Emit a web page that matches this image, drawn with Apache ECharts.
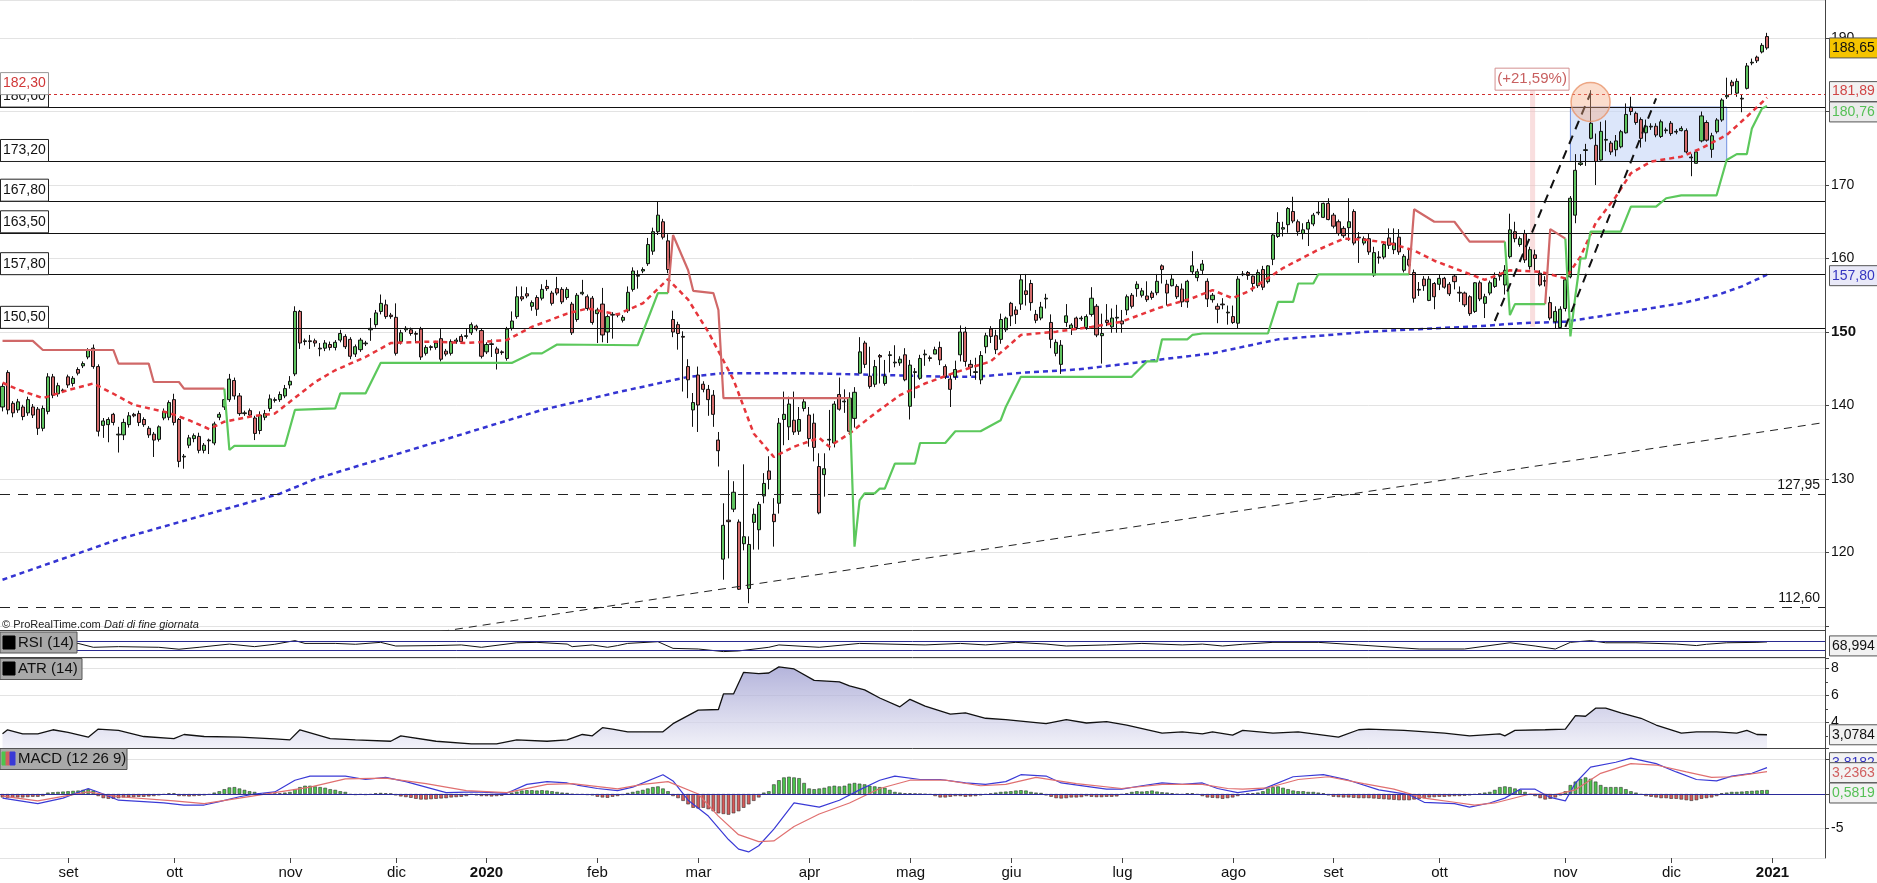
<!DOCTYPE html>
<html><head><meta charset="utf-8">
<script src="https://cdn.jsdelivr.net/npm/echarts@6/dist/echarts.min.js"></script>
<style>html,body{margin:0;padding:0;background:#fff}#c{width:1877px;height:883px}</style>
</head><body><div id="c"></div>
<script>
const FONT = '"Liberation Sans", Arial, sans-serif';
const N_SLOTS = 362;
const monthIdx = [13,34,57,78,96,118,138,160,180,200,222,244,264,285,310,331,351];
const monthLbl = ['set','ott','nov','dic','2020','feb','mar','apr','mag','giu','lug','ago','set','ott','nov','dic','2021'];
const mainTicks = [120,130,140,150,160,170,180,190];
const atrTicks = [4,6,8];
const macdTicks = [-5,0,5];

const openP = [
139.8,144.5,140.3,139.4,139.8,139.0,139.8,139.5,136.9,139.2,
143.9,141.6,142.0,143.9,143.0,144.9,145.4,146.6,147.8,145.3,
137.3,137.4,138.8,136.0,136.0,137.4,138.8,138.9,138.1,136.9,
136.1,135.4,138.3,138.4,140.8,138.1,133.0,134.6,135.5,135.8,
133.9,135.2,134.9,138.4,139.8,140.8,143.4,141.3,138.9,139.3,
138.3,136.6,138.4,139.6,140.7,140.8,141.3,142.8,144.3,152.8,
148.7,148.8,148.8,147.8,147.8,148.3,147.9,148.9,149.4,149.0,
147.0,147.6,148.4,150.3,151.0,152.8,153.7,152.3,152.0,148.7,
150.3,150.3,149.8,150.4,147.1,147.9,147.9,149.1,147.4,147.1,
148.7,149.4,149.4,149.9,150.8,150.2,147.3,148.3,147.7,147.3,
146.4,150.5,152.1,154.8,155.2,153.5,154.7,154.6,156.2,155.3,
155.9,155.8,154.7,153.8,151.7,155.2,154.8,154.6,152.5,153.8,
150.0,152.3,152.4,151.6,152.9,155.8,157.6,158.3,159.3,161.0,
163.65,165.0,162.4,151.7,151.0,149.4,145.3,139.4,144.15,142.9,
142.2,141.4,135.3,119.1,124.4,125.9,124.15,121.2,115.1,124.1,
123.1,127.7,131.1,125.2,126.7,138.1,137.1,138.0,136.5,139.6,
138.7,137.6,131.7,130.6,135.3,134.9,141.5,140.5,141.0,138.25,
144.4,148.5,144.0,142.9,146.8,143.0,146.8,145.8,145.8,146.9,
139.9,144.5,143.7,146.9,146.5,147.0,147.9,145.3,143.6,143.9,
146.9,150.0,145.6,144.5,143.5,148.0,150.4,149.5,149.0,150.3,
153.9,153.0,153.8,155.6,156.6,152.4,151.9,154.5,151.3,147.1,
145.6,151.3,150.5,151.9,151.8,150.6,152.4,153.5,149.5,151.6,
150.7,151.9,151.5,153.0,155.0,155.9,155.0,154.9,155.3,155.35,
159.0,156.5,156.3,156.2,155.85,154.1,158.2,157.4,158.4,156.9,
154.4,153.5,153.8,152.6,152.1,151.2,157.8,158.1,157.6,156.3,
158.5,156.85,159.9,163.0,164.0,164.6,166.4,165.0,163.4,164.0,
164.7,166.2,165.6,167.5,165.9,165.0,164.1,164.2,166.4,162.9,
162.1,162.7,157.75,160.2,160.2,162.8,161.2,162.9,158.4,159.9,
158.1,155.8,157.2,154.3,156.6,156.5,157.3,156.5,157.6,155.4,
155.3,154.8,152.8,156.7,153.9,155.3,156.2,157.6,156.4,160.25,
163.65,161.9,163.4,158.9,160.5,158.0,157.0,154.0,151.4,150.6,
153.2,157.5,165.9,172.8,174.7,176.35,175.4,173.4,176.1,175.7,
174.8,175.2,177.1,180.6,179.75,178.9,177.1,177.9,178.0,176.6,
177.4,178.4,177.2,177.4,177.4,173.7,172.95,176.0,178.5,174.85,
177.25,178.85,182.0,184.0,182.5,181.8,183.15,186.6,187.4,188.1,190.2];

const closeP = [
142.6,139.4,139.0,140.5,138.5,140.8,138.7,136.9,139.6,143.9,
141.4,142.7,142.1,142.8,143.7,144.4,145.7,147.5,145.3,136.5,
137.9,138.1,137.7,136.1,137.7,138.6,138.6,137.7,137.4,136.0,
135.3,137.1,139.2,140.4,137.7,132.4,133.1,135.6,135.9,133.9,
134.6,135.3,137.5,138.8,140.8,143.6,141.3,138.9,139.0,138.7,
136.2,138.7,138.9,140.9,140.8,141.5,142.3,143.3,152.8,148.5,
148.8,148.7,148.5,147.7,148.5,147.9,148.6,149.8,148.0,146.7,
148.0,148.9,148.5,150.5,152.6,153.9,152.1,152.1,147.1,149.9,
150.5,149.8,149.7,146.6,147.9,148.0,148.5,146.3,147.0,148.7,
148.9,148.7,149.5,151.0,150.4,146.7,148.3,148.4,147.1,147.2,
150.4,151.5,154.8,154.5,154.9,154.0,153.1,155.8,155.9,153.9,
155.3,154.1,155.8,149.9,155.0,155.4,153.2,151.3,153.0,149.6,
152.1,152.4,152.3,152.0,155.4,158.3,157.7,158.5,161.9,163.65,
165.9,162.9,158.5,150.0,149.8,149.3,143.5,140.4,140.07,142.2,
140.8,138.8,133.85,123.7,124.2,128.2,115.0,122.15,121.1,125.2,
126.55,129.4,129.95,124.2,137.6,138.8,140.2,136.4,138.1,140.5,
135.5,134.3,125.4,131.4,135.4,140.2,139.5,140.6,136.5,141.8,
147.3,145.6,142.6,145.3,146.6,144.0,146.9,145.9,146.3,143.5,
145.5,144.6,146.4,147.0,146.4,147.6,146.2,143.9,142.2,144.9,
150.0,146.0,145.2,144.6,146.8,149.5,149.4,147.6,151.7,151.9,
152.2,152.4,157.1,155.1,154.0,151.6,153.4,154.6,149.0,148.6,
148.2,152.2,150.95,150.6,151.9,152.1,154.6,149.6,149.8,151.3,
151.9,152.0,151.1,154.8,153.5,156.5,155.6,154.4,154.7,156.9,
158.5,155.3,157.2,154.8,154.1,156.9,159.0,158.2,159.25,154.5,
155.0,153.1,153.7,152.7,151.3,157.2,157.9,157.7,156.6,158.1,
156.1,159.0,163.2,164.9,164.2,166.8,165.1,163.65,163.9,164.9,
165.9,166.3,167.5,165.3,164.4,163.4,163.1,165.0,162.1,162.8,
162.7,160.9,160.8,160.1,161.9,161.8,162.1,160.9,160.3,159.1,
154.6,155.7,156.3,157.2,154.8,157.3,156.1,155.2,156.85,155.3,
153.7,152.5,156.7,154.5,154.8,156.7,157.3,157.7,158.4,163.9,
162.7,162.7,159.8,161.2,160.0,156.4,156.9,151.9,152.8,153.1,
157.1,168.2,172.0,173.0,174.8,178.4,173.2,177.3,176.2,174.5,
176.0,177.25,179.6,180.0,178.5,176.35,178.0,178.0,176.8,178.6,
177.5,177.0,177.3,177.7,174.5,173.8,174.5,179.4,176.1,176.7,
178.85,181.56,182.2,183.5,184.1,181.7,186.2,186.7,186.9,189.0,188.65];

const lowP = [
139.2,138.8,138.4,139.0,138.0,138.6,138.3,136.0,136.5,138.8,
141.0,141.2,141.7,142.4,142.6,144.1,145.1,146.3,145.0,135.8,
135.6,135.0,137.3,133.6,135.3,137.0,138.4,137.2,137.1,135.6,
133.0,135.1,138.0,138.0,137.3,131.6,131.4,134.2,135.0,133.5,
133.5,133.4,134.6,138.0,139.4,140.5,140.8,138.6,138.6,138.4,
135.3,136.1,138.0,139.2,140.4,140.5,141.0,142.3,144.0,147.7,
148.2,147.7,148.0,146.7,147.4,147.5,147.5,148.6,147.7,146.3,
146.6,147.3,148.1,148.8,150.6,152.4,151.8,151.8,146.8,148.3,
150.0,149.5,148.5,146.2,146.8,147.5,147.6,146.0,146.7,146.8,
148.4,148.4,149.1,149.6,150.1,146.4,147.0,146.6,144.9,146.9,
146.1,150.2,151.8,154.2,154.6,152.9,152.2,154.3,155.6,153.6,
155.0,153.8,154.4,149.6,151.4,155.0,152.9,151.0,148.5,148.6,
148.5,149.1,152.0,151.3,152.6,155.5,155.9,158.0,159.0,160.5,
163.2,162.6,158.0,149.3,147.6,141.9,141.0,137.1,136.4,141.8,
138.6,137.1,131.7,116.3,119.2,125.5,114.9,120.3,113.1,120.4,
120.4,126.7,128.6,120.8,125.3,134.6,135.3,136.0,136.0,139.2,
134.4,132.4,125.2,127.6,133.9,134.3,139.3,139.0,136.0,137.0,
144.4,145.1,142.3,142.5,143.0,142.7,144.5,145.2,145.4,143.3,
138.1,141.0,143.5,145.4,146.0,147.0,145.5,143.6,139.8,143.5,
146.0,145.3,144.0,143.5,142.9,147.1,148.5,147.0,148.4,150.0,
150.8,151.1,153.0,153.6,152.9,151.2,151.6,153.2,147.8,146.7,
144.3,150.7,149.6,150.3,151.5,150.3,152.1,149.3,145.7,150.8,
149.9,149.9,149.9,152.3,153.2,154.8,154.7,154.1,154.4,155.0,
156.6,153.6,156.2,154.5,153.4,153.3,157.9,156.9,157.9,153.4,
154.0,151.2,153.1,151.0,151.1,150.5,157.6,157.1,155.5,156.0,
155.7,156.6,159.1,162.8,163.0,163.5,164.8,163.1,162.6,161.7,
164.4,165.9,165.5,165.2,164.1,163.1,162.8,162.4,161.8,159.4,
161.8,160.5,157.5,159.3,159.9,161.3,160.6,160.5,158.1,158.9,
154.0,154.9,155.6,154.2,153.1,155.7,155.9,154.9,155.8,154.1,
153.4,152.2,152.6,154.2,151.9,155.0,156.0,157.0,155.1,160.0,
162.2,161.6,159.4,158.5,158.4,156.2,156.2,151.6,150.5,150.5,
152.8,157.3,164.8,172.6,172.6,176.2,170.0,173.3,174.6,174.1,
173.9,175.0,177.0,179.5,178.2,175.1,175.9,177.5,176.5,176.4,
177.0,176.7,176.9,177.3,174.3,171.2,172.9,175.8,175.9,173.7,
177.0,178.6,181.7,182.3,182.0,179.9,183.0,186.3,186.6,187.9,188.4];

const highP = [
143.0,144.8,140.6,140.9,140.1,141.2,140.2,139.8,140.0,144.4,
144.3,143.1,142.3,144.2,144.0,145.2,146.0,147.8,148.3,145.6,
138.3,138.4,139.0,137.1,138.2,139.1,139.0,139.3,138.4,137.2,
136.4,137.3,139.6,140.7,141.6,138.3,133.4,136.0,136.2,136.3,
134.9,135.5,137.8,139.1,141.2,144.3,143.8,141.7,139.3,139.6,
138.6,139.2,139.4,141.5,141.1,141.9,142.8,144.0,153.5,153.0,
149.1,149.6,149.1,148.5,148.9,148.7,148.9,150.3,149.7,149.3,
148.3,149.2,148.8,151.9,153.0,155.1,154.4,152.6,153.9,150.3,
150.8,150.6,150.1,150.7,148.2,148.2,148.8,150.4,147.7,149.0,
149.2,149.7,150.4,151.3,151.0,150.5,148.6,149.0,148.0,147.5,
150.7,152.8,156.2,156.2,156.1,154.3,155.0,156.5,157.1,155.6,
157.5,156.1,156.1,154.1,155.3,157.1,155.1,154.9,153.3,156.0,
152.4,152.7,152.6,152.3,156.2,158.8,158.4,158.8,162.8,164.2,
167.8,165.4,163.3,152.9,151.4,150.1,146.3,141.7,145.3,143.3,
142.8,142.1,136.4,126.7,131.2,129.7,124.5,132.0,122.2,126.0,
126.9,130.8,133.1,127.4,138.3,141.9,141.2,141.9,139.8,141.0,
139.8,138.9,133.5,133.5,139.4,140.6,143.8,142.2,141.8,142.5,
149.3,148.8,148.0,146.2,147.0,146.2,147.4,148.2,146.7,147.8,
146.2,145.1,146.9,147.6,146.8,148.0,148.7,145.6,144.2,146.1,
150.9,150.7,146.2,146.5,147.4,149.9,150.8,150.3,152.5,152.1,
154.1,153.5,157.8,157.9,157.1,153.0,154.1,155.2,152.4,149.0,
148.9,153.8,151.2,152.1,152.2,152.4,156.1,153.8,152.5,153.8,
153.2,153.7,153.0,155.1,155.3,156.9,156.0,156.9,155.6,157.9,
159.2,157.1,157.9,156.5,156.6,157.1,161.0,158.6,159.8,157.3,
155.3,153.9,154.6,153.6,153.6,157.6,158.3,158.3,157.7,158.5,
159.0,159.1,163.4,166.3,165.0,167.0,168.4,165.3,164.8,165.3,
166.2,167.7,167.6,168.2,166.2,165.3,164.4,168.2,166.7,163.6,
163.0,163.4,161.6,161.0,162.2,164.1,164.1,164.0,160.6,161.4,
158.5,156.8,157.6,157.6,156.8,157.8,157.5,156.8,157.8,156.2,
155.5,155.0,156.8,157.0,155.2,157.0,158.1,158.2,159.1,166.1,
165.0,163.0,163.9,161.6,161.2,158.4,157.6,154.8,153.5,153.5,
157.4,168.5,174.2,174.2,175.6,182.9,177.0,178.6,178.8,176.0,
176.8,177.5,181.1,182.0,180.0,179.2,178.9,178.4,178.4,178.9,
177.8,178.7,177.6,178.0,177.7,174.2,174.8,180.0,178.8,177.1,
179.1,181.8,184.6,184.3,184.5,182.3,186.6,187.2,187.6,189.3,190.7];

// overlay lines: [slot index, value]
const sma20Pts = [[0,143.1],[3,142.2],[8,141.0],[13,142.1],[18,143.0],[22,141.6],[26,140.1],[33,139.0],[37,138.0],[41,136.8],[44,137.8],[50,138.6],[54,138.9],[57,140.5],[62,143.2],[66,144.8],[72,146.6],[77,148.5],[85,148.7],[92,148.5],[100,148.9],[105,150.7],[112,152.5],[116,153.2],[122,152.4],[127,153.9],[132,157.2],[136,154.4],[140,150.0],[145,143.5],[149,136.2],[153,133.0],[157,134.4],[162,135.6],[164,134.4],[168,136.2],[173,138.9],[178,141.4],[183,143.0],[189,144.5],[196,146.0],[202,149.6],[209,150.05],[216,150.7],[222,151.4],[229,153.2],[236,154.6],[240,155.7],[244,154.6],[247,155.5],[254,158.7],[261,161.2],[266,162.7],[271,162.5],[275,162.1],[280,161.1],[284,159.7],[289,158.4],[294,157.1],[299,158.4],[305,158.2],[310,157.3],[313,160.25],[316,164.8],[320,168.4],[323,171.6],[327,173.2],[333,173.85],[337,175.0],[342,176.8],[346,179.3],[350,181.89]];
const sma200Pts = [[0,116.3],[23,121.8],[55,128.0],[62,130.0],[107,139.4],[122,141.8],[136,143.9],[143,144.4],[159,144.4],[178,144.1],[188,143.9],[193,143.9],[203,144.5],[213,144.9],[222,145.6],[229,146.2],[240,147.1],[253,149.0],[271,150.05],[284,150.5],[293,150.8],[301,151.2],[310,151.4],[323,152.8],[333,153.9],[340,155.0],[345,156.2],[350,157.8]];
const stopRed1 = [[0,148.8],[6,148.8],[8,147.55],[22,147.55],[23,145.7],[29,145.7],[30,143.2],[35,143.2],[36,142.3],[44,142.3]];
const stopGreen1 = [[44,142.3],[45,133.95],[46,134.5],[56,134.5],[58,139.4],[66,139.6],[67,141.65],[72,141.65],[75,145.8],[101,145.8],[105,147.1],[107,147.1],[110,148.3],[126,148.2],[130,155.3],[132,155.3]];
const stopRed2 = [[132,155.3],[133,163.2],[136,158.4],[137,155.6],[141,155.3],[142,153.0],[143,141.0],[168,141.0]];
const stopGreen2 = [[168,141.0],[169,120.8],[170,127.1],[171,128.05],[173,128.05],[174,128.7],[175,128.7],[177,132.1],[181,132.1],[182,134.9],[187,134.9],[189,136.5],[194,136.5],[198,138.0],[199,139.8],[202,143.9],[224,143.9],[227,146.0],[229,146.0],[230,149.0],[235,149.0],[236,149.6],[238,149.8],[251,149.8],[253,154.1],[256,154.1],[257,156.6],[260,156.6],[261,157.85],[279,157.85]];
const stopRed3 = [[279,157.85],[280,166.7],[284,165.0],[288,165.0],[291,162.3],[298,162.3]];
const stopGreen3 = [[298,162.3],[299,152.3],[300,153.8],[306,153.8]];
const stopRed4 = [[306,153.8],[307,164.0],[310,162.7]];
const stopGreen4 = [[310,162.7],[311,149.4],[312,155.0],[313,160.0],[314,160.0],[315,163.65],[321,163.65],[323,167.05],[328,167.05],[330,168.2],[333,168.6],[340,168.6],[342,173.4],[344,174.2],[346,174.2],[347,177.7],[349,180.4],[350,180.76]];

const trendLong = [[87,109.26],[361,137.65]];
const channelA = [[296,151.5],[315,182.5]];
const channelB = [[310,150.7],[328,181.8]];

const levelSolid = [180.6,173.2,167.8,163.5,157.8,150.5];
const levelSolidTxt = ['180,60','173,20','167,80','163,50','157,80','150,50'];
const levelRed = [182.3]; const levelRedTxt = ['182,30'];
const levelDashed = [127.95,112.6]; const levelDashedTxt = ['127,95','112,60'];
const boxArea = [311,180.6,342,173.2];
const pinkBand = [303,183.6,304,150.7];
const circlePt = [[315,181.3]];
const pctLabel = {idx:303, price:184.4, text:'(+21,59%)'};

const rsiPts = [[0,50],[5,54],[10,56],[15,62],[18,44],[23,47],[31,44],[35,35],[39,44],[45,59],[50,47],[54,58],[58,75],[60,62],[66,62],[70,58],[75,67],[78,50],[86,52],[91,55],[95,44],[102,65],[106,67],[112,59],[113,47],[117,55],[120,44],[122,52],[124,62],[130,70],[133,39],[138,36],[143,24],[146,27],[152,44],[154,55],[162,44],[170,62],[183,55],[190,62],[195,55],[201,67],[207,59],[211,50],[219,55],[226,62],[234,55],[238,59],[242,50],[246,58],[252,67],[261,67],[269,55],[281,36],[290,36],[299,65],[304,50],[308,36],[311,67],[315,75],[318,65],[324,65],[332,59],[336,52],[338,58],[342,65],[348,67],[350,69.0]];
const atrPts = [[0,3.15],[1,3.45],[4,3.15],[7,3.15],[10,3.45],[13,3.25],[17,2.9],[19,3.5],[23,3.4],[28,2.95],[34,2.8],[36,3.1],[40,2.95],[47,2.9],[54,2.78],[57,2.7],[59,3.45],[65,2.8],[70,2.7],[77,2.6],[79,3.0],[86,2.6],[93,2.4],[98,2.4],[102,2.7],[108,2.6],[112,2.7],[115,3.1],[117,3.0],[119,3.6],[121,3.5],[124,3.3],[131,3.3],[133,3.9],[138,4.9],[142,4.95],[143,6.1],[145,6.1],[147,7.7],[150,7.6],[152,7.65],[154,8.1],[157,7.95],[161,7.1],[166,7.0],[168,6.7],[171,6.4],[174,5.8],[178,5.15],[180,5.7],[183,5.2],[188,4.6],[191,4.7],[195,4.3],[199,4.2],[207,3.9],[211,4.2],[215,3.95],[219,4.05],[223,3.8],[230,3.2],[234,3.3],[238,3.15],[240,3.3],[244,3.05],[246,3.4],[252,3.2],[257,3.3],[265,2.9],[269,3.45],[271,3.5],[278,3.4],[286,3.2],[291,3.0],[297,3.15],[298,3.0],[300,3.4],[306,3.45],[310,3.5],[312,4.5],[314,4.45],[316,5.05],[318,5.05],[321,4.7],[325,4.3],[328,3.8],[333,3.2],[336,3.3],[340,3.3],[344,3.2],[346,3.4],[348,3.1],[350,3.08]];
const macdPts = [[0,-0.6],[7,-1.4],[12,-0.6],[17,0.8],[20,0],[23,-0.9],[28,-1.1],[32,-1.3],[36,-1.6],[40,-1.6],[43,-1.1],[47,-0.4],[50,0],[54,0.3],[58,2.0],[61,2.6],[68,2.6],[72,2.1],[76,2.4],[80,1.8],[84,1.0],[88,0.2],[94,0.3],[100,0.1],[104,1.4],[108,1.8],[112,1.6],[114,1.3],[118,0.8],[122,0.5],[125,1.0],[131,2.8],[133,1.9],[136,-0.9],[140,-3.2],[144,-6.6],[146,-8.0],[148,-8.4],[150,-7.5],[153,-5.1],[157,-1.3],[162,-1.9],[166,-0.9],[170,0.6],[174,2.0],[177,2.6],[182,2.1],[186,2.1],[191,1.6],[195,1.4],[199,1.8],[202,2.8],[207,2.6],[210,1.6],[215,1.1],[219,0.7],[222,0.7],[226,1.2],[230,1.6],[234,1.4],[238,1.6],[241,0.8],[245,0.2],[250,0.7],[256,2.5],[262,2.8],[267,2.0],[273,0.6],[279,-0.1],[282,-1.2],[288,-1.4],[291,-1.9],[295,-1.3],[298,-0.6],[301,0.7],[304,0.7],[307,-0.5],[310,-1.0],[312,1.6],[315,3.9],[320,4.6],[323,5.2],[328,4.4],[332,3.2],[336,2.1],[340,1.9],[343,2.6],[347,3.0],[350,3.82]];
const signalPts = [[0,-0.3],[7,-1.0],[17,0.3],[23,-0.4],[34,-1.0],[40,-1.4],[47,-0.6],[53,0.1],[61,1.0],[68,2.2],[76,2.3],[84,1.5],[92,0.5],[100,0.2],[108,1.4],[113,1.5],[122,0.75],[127,1.4],[132,1.8],[138,0],[142,-3.2],[146,-5.9],[150,-6.9],[153,-6.8],[157,-4.7],[162,-2.9],[168,-1.3],[174,0.8],[180,2.0],[187,2.0],[194,1.2],[199,1.4],[205,2.4],[213,1.5],[222,0.8],[230,1.4],[238,1.4],[243,0.8],[246,0.7],[251,0.9],[257,2.1],[263,2.5],[270,1.5],[276,0.7],[282,-0.6],[288,-1.2],[292,-1.6],[296,-1.3],[303,0],[308,-0.1],[312,0.6],[317,3.0],[323,4.4],[328,4.2],[334,3.2],[339,2.4],[343,2.5],[350,3.24]];
const histVals = [
-0.5,-0.55,-0.55,-0.5,-0.5,-0.45,-0.4,-0.4,-0.3,0.2,
0.25,0.3,0.35,0.4,0.45,0.5,0.6,0.7,0.5,-0.3,
-0.6,-0.7,-0.7,-0.6,-0.5,-0.5,-0.45,-0.4,-0.4,-0.35,
-0.3,-0.2,-0.1,0.1,0.1,-0.3,-0.3,-0.35,-0.3,-0.25,
-0.2,-0.1,0.2,0.4,0.7,0.95,1.0,0.8,0.6,0.4,
0.3,0.1,0.05,-0.05,0.05,0.1,0.2,0.3,0.7,1.0,
1.2,1.2,1.1,1.0,0.9,0.7,0.6,0.4,0.3,-0.1,
-0.15,-0.1,-0.15,-0.1,0.1,0.15,0.1,0.05,-0.2,-0.35,
-0.45,-0.55,-0.7,-0.8,-0.8,-0.75,-0.7,-0.65,-0.6,-0.5,
-0.45,-0.4,-0.3,-0.1,-0.2,-0.3,-0.3,-0.35,-0.3,-0.25,
-0.1,0.2,0.35,0.5,0.55,0.55,0.5,0.55,0.5,0.4,
0.3,0.2,0.15,-0.05,-0.1,-0.1,-0.15,-0.2,-0.4,-0.5,
-0.55,-0.4,-0.3,-0.15,0.15,0.3,0.45,0.6,0.8,1.0,
1.1,0.8,0.4,-0.3,-0.6,-1.0,-1.5,-2.0,-2.1,-2.0,
-2.2,-2.5,-2.8,-2.9,-3.0,-2.8,-2.5,-2.0,-1.5,-1.0,
-0.5,0.2,0.4,1.4,2.0,2.4,2.5,2.4,2.3,1.6,
0.8,0.7,0.8,0.9,1.1,1.2,1.1,1.2,1.5,1.6,
1.5,1.4,1.2,1.1,1.0,0.9,0.6,0.3,0.2,0.1,
0.1,0.05,0,-0.05,-0.1,-0.3,-0.5,-0.5,-0.4,-0.3,
-0.3,-0.4,-0.35,-0.3,-0.2,-0.1,0.05,0.2,0.3,0.35,
0.4,0.5,0.55,0.5,0.3,0.2,0.15,-0.2,-0.4,-0.6,
-0.65,-0.6,-0.5,-0.5,-0.45,-0.3,-0.4,-0.45,-0.45,-0.4,
-0.4,-0.35,-0.1,0.1,0.3,0.4,0.35,0.4,0.5,0.35,
0.25,0.2,0.1,-0.05,-0.1,0.1,0.1,-0.1,-0.3,-0.5,
-0.55,-0.6,-0.7,-0.6,-0.5,-0.3,-0.1,0.05,0.1,0.2,
0.4,0.8,1.0,1.1,0.9,0.7,0.5,0.4,0.4,0.3,
0.3,0.2,0.1,-0.2,-0.4,-0.45,-0.5,-0.5,-0.55,-0.6,
-0.6,-0.6,-0.65,-0.7,-0.75,-0.8,-0.85,-0.9,-0.9,-0.9,
-0.8,-0.7,-0.6,-0.5,-0.45,-0.4,-0.4,-0.35,-0.3,-0.3,
-0.25,-0.2,-0.1,0.05,0.2,0.3,0.6,1.0,1.1,1.0,
0.8,0.6,0.3,-0.1,-0.3,-0.6,-0.8,-0.7,-0.5,-0.2,
0.4,1.3,1.8,2.2,2.4,2.2,1.8,1.3,1.0,1.0,
1.0,1.0,0.7,0.4,0.2,-0.1,-0.3,-0.4,-0.5,-0.6,
-0.6,-0.7,-0.7,-0.8,-0.9,-1.0,-0.9,-0.7,-0.6,-0.5,
-0.3,0.1,0.2,0.3,0.3,0.35,0.4,0.45,0.5,0.55,0.58];

// last-value boxes on the right
const lastVals = {close:188.65, sma20:181.89, stop:180.76, sma200:157.80, rsi:68.994, atr:3.0784, macd:3.8182, signal:3.2363, hist:0.5819};

const slots = Array.from({length:N_SLOTS}, (_, i) => String(i));
const ohlc = openP.map((o, i) => [o, closeP[i], lowP[i], highP[i]]);

const chart = echarts.init(document.getElementById('c'), null, {renderer:'canvas'});
const axisCol = '#444';
function xAx(gi) {
  return {
    type:'category', gridIndex:gi, data:slots, boundaryGap:true,
    axisLine:{show:true, lineStyle:{color:axisCol, width:1}},
    axisTick:{show:false}, axisLabel:{show:false}, splitLine:{show:false}
  };
}
function tickFmt(list, boldVal) {
  return (v) => {
    const r = Math.round(v * 1000) / 1000;
    if (!list.includes(r)) return '';
    return r === boldVal ? '{b|' + r + '}' : String(r);
  };
}
const yLbl = (list, boldVal) => ({show:true, margin:6, color:'#111', fontSize:14, fontFamily:FONT, showMinLabel:false, showMaxLabel:false, formatter:tickFmt(list, boldVal), rich:{b:{fontWeight:'bold', fontSize:15, fontFamily:FONT, color:'#111'}}});

const lineSeries = (pts, color, width, type, extra) => Object.assign({type:'line', data:pts, symbol:'none', silent:true, animation:false, lineStyle:{color:color, width:width, type:type || 'solid'}, xAxisIndex:0, yAxisIndex:0}, extra || {});

const levelMarks = [];
levelSolid.forEach(v => levelMarks.push({yAxis:v, lineStyle:{color:'#111', width:1.2, type:'solid'}}));
levelRed.forEach(v => levelMarks.push({yAxis:v, lineStyle:{color:'#d03030', width:1, type:[3,3]}}));
levelDashed.forEach(v => levelMarks.push({yAxis:v, lineStyle:{color:'#222', width:1, type:[10,8]}}));

const series = [];
series.push(lineSeries(sma200Pts, '#3434d2', 2.5, [5,4], {
  z:3,
  markArea:{silent:true, data:[
    [{xAxis:boxArea[0], yAxis:boxArea[1], itemStyle:{color:'rgba(196,214,246,0.6)', borderColor:'#6f8fdf', borderWidth:1}}, {xAxis:boxArea[2], yAxis:boxArea[3]}],
    [{xAxis:pinkBand[0], yAxis:pinkBand[1], itemStyle:{color:'rgba(244,190,190,0.5)'}}, {xAxis:pinkBand[2], yAxis:pinkBand[3]}]
  ]},
  markLine:{silent:true, symbol:['none','none'], label:{show:false}, animation:false, data:levelMarks}
}));
series.push({type:'candlestick', xAxisIndex:0, yAxisIndex:0, data:ohlc, barWidth:3.6, silent:true, z:4,
  itemStyle:{color:'#5fc35f', color0:'#d46b6b', borderColor:'#111', borderColor0:'#111', borderWidth:1}});
series.push(lineSeries(sma20Pts, '#e6353b', 2.5, [5,4], {z:5}));
[stopRed1, stopRed2, stopRed3, stopRed4].forEach(s => series.push(lineSeries(s, '#d06868', 2.2, 'solid', {z:5})));
[stopGreen1, stopGreen2, stopGreen3, stopGreen4].forEach(s => series.push(lineSeries(s, '#5cc85c', 2.2, 'solid', {z:5})));
series.push(lineSeries(trendLong, '#222', 1, [8,6], {z:5}));
series.push(lineSeries(channelA, '#111', 2, [9,7], {z:5}));
series.push(lineSeries(channelB, '#111', 2, [9,7], {z:5}));
series.push({type:'scatter', xAxisIndex:0, yAxisIndex:0, data:circlePt, symbolSize:39, silent:true, z:6,
  itemStyle:{color:'rgba(244,170,130,0.5)', borderColor:'#e8946a', borderWidth:1.5}});
// RSI
series.push({type:'line', xAxisIndex:1, yAxisIndex:1, data:rsiPts, symbol:'none', silent:true, lineStyle:{color:'#111', width:1},
  markLine:{silent:true, symbol:['none','none'], label:{show:false}, data:[{yAxis:70},{yAxis:30}], lineStyle:{color:'#2a2a90', width:1, type:'solid'}}});
// ATR
series.push({type:'line', xAxisIndex:2, yAxisIndex:2, data:atrPts, symbol:'none', silent:true, lineStyle:{color:'#111', width:1.3},
  areaStyle:{origin:'start', color:new echarts.graphic.LinearGradient(0,0,0,1,[{offset:0,color:'#9494cc'},{offset:1,color:'#ececf6'}])}});
// MACD
series.push({type:'bar', xAxisIndex:3, yAxisIndex:3, data:histVals, barWidth:3.6, silent:true,
  itemStyle:{color:(p) => p.value >= 0 ? '#4cc44c' : '#d65a5a', borderColor:'#333', borderWidth:0.6},
  markLine:{silent:true, symbol:['none','none'], label:{show:false}, data:[{yAxis:0}], lineStyle:{color:'#2a2a9a', width:1.2, type:'solid'}}});
series.push({type:'line', xAxisIndex:3, yAxisIndex:3, data:macdPts, symbol:'none', silent:true, lineStyle:{color:'#3a3ad6', width:1.2}, z:4});
series.push({type:'line', xAxisIndex:3, yAxisIndex:3, data:signalPts, symbol:'none', silent:true, lineStyle:{color:'#e07070', width:1.2}, z:4});

const option = {
  animation:false,
  backgroundColor:'#ffffff',
  textStyle:{fontFamily:FONT},
  grid:[
    {left:0, top:0, width:1825, height:630, outerBoundsMode:'none', containLabel:false, show:false},
    {left:0, top:630, width:1825, height:28, outerBoundsMode:'none', containLabel:false, show:false},
    {left:0, top:658, width:1825, height:90, outerBoundsMode:'none', containLabel:false, show:false},
    {left:0, top:748, width:1825, height:110, outerBoundsMode:'none', containLabel:false, show:false}
  ],
  xAxis:[xAx(0), xAx(1), xAx(2), xAx(3)],
  yAxis:[
    {gridIndex:0, type:'value', position:'right', min:109.46, max:195.17, splitNumber:8,
      axisLine:{show:true, lineStyle:{color:axisCol}}, axisTick:{show:true, length:4, lineStyle:{color:axisCol}},
      splitLine:{show:true, lineStyle:{color:'#e3e3e3'}}, axisLabel:yLbl(mainTicks, 150)},
    {gridIndex:1, type:'value', position:'right', min:-5.8, max:124.4,
      axisLine:{show:true, lineStyle:{color:axisCol}}, axisTick:{show:false}, splitLine:{show:false}, axisLabel:{show:false}},
    {gridIndex:2, type:'value', position:'right', min:2.1, max:8.76, splitNumber:3,
      axisLine:{show:true, lineStyle:{color:axisCol}}, axisTick:{show:true, length:4, lineStyle:{color:axisCol}},
      minorTick:{show:true, splitNumber:2, length:3, lineStyle:{color:axisCol}},
      splitLine:{show:true, lineStyle:{color:'#e3e3e3'}}, axisLabel:yLbl(atrTicks, null)},
    {gridIndex:3, type:'value', position:'right', min:-9.28, max:6.67, splitNumber:3,
      axisLine:{show:true, lineStyle:{color:axisCol}}, axisTick:{show:true, length:4, lineStyle:{color:axisCol}},
      splitLine:{show:true, lineStyle:{color:'#e3e3e3'}}, axisLabel:yLbl(macdTicks, null)}
  ],
  series:series
};
chart.setOption(option);

// text boxes placed through the chart's own scales
const yPix = (a, v) => chart.convertToPixel({yAxisIndex:a}, v);
const xPix = (i) => chart.convertToPixel({xAxisIndex:0}, i);
const G = [];
function rect(x, y, w, h, fill, stroke, z) { G.push({type:'rect', shape:{x:x, y:y, width:w, height:h}, style:{fill:fill, stroke:stroke, lineWidth:1}, z:z || 100, silent:true}); }
function txt(x, y, s, color, font, align, z) { G.push({type:'text', x:x, y:y, style:{text:s, fill:color, font:font || ('14px ' + FONT), align:align || 'left', verticalAlign:'middle', textAlign:align || 'left', textVerticalAlign:'middle'}, z:z || 101, silent:true}); }

// month ticks and labels along the bottom axis
const xAxisY = chart.convertToPixel({xAxisIndex:3, yAxisIndex:3}, [0, -9.28])[1];
monthIdx.forEach((idx, k) => {
  const x = Math.round(xPix(idx)) + 0.5;
  G.push({type:'line', shape:{x1:x, y1:xAxisY, x2:x, y2:xAxisY + 5}, style:{stroke:axisCol, lineWidth:1}, z:90, silent:true});
  const t = monthLbl[k];
  const bold = /^\d{4}$/.test(t);
  txt(x, xAxisY + 15, t, '#111', (bold ? 'bold ' : '') + '15px ' + FONT, 'center', 91);
});

// left level labels (180,60 first so 182,30 covers it)
levelSolid.forEach((v, k) => { const y = yPix(0, v); rect(0.5, y - 22, 48, 22, '#ffffff', '#222', 100 + k * 2); txt(3, y - 11, levelSolidTxt[k], '#111', null, 'left', 101 + k * 2); });
levelRed.forEach((v, k) => { const y = yPix(0, v); rect(0.5, y - 22, 48, 22, '#ffffff', '#999', 130); txt(3, y - 11, levelRedTxt[k], '#d03838', null, 'left', 131); });
levelDashed.forEach((v, k) => { const y = yPix(0, v); txt(1820, y - 9, levelDashedTxt[k], '#111', null, 'right'); });

// right value boxes
function rbox(axis, v, text, fill, color, dy, z) { const y = yPix(axis, v) + (dy || 0); rect(1829.5, y - 10, 50, 20, fill, '#555', z); txt(1832, y, text, color, null, 'left', z + 1); }
rbox(0, lastVals.close, '188,65', '#f5c400', '#111', 0, 140);
rbox(0, lastVals.sma20, '181,89', '#f2f2f2', '#d04545', -6, 142);
rbox(0, lastVals.stop, '180,76', '#ebebeb', '#55c055', 6, 144);
rbox(0, lastVals.sma200, '157,80', '#e9e9f8', '#3535c0', 1, 146);
rbox(1, lastVals.rsi, '68,994', '#f2f2f2', '#111', 4, 148);
rbox(2, lastVals.atr, '3,0784', '#f2f2f2', '#111', 0, 150);
rbox(3, lastVals.macd, '3,8182', '#f2f2f2', '#3535c0', -5, 152);
rbox(3, lastVals.signal, '3,2363', '#f2f2f2', '#d06060', 1, 154);
rbox(3, lastVals.hist, '0,5819', '#f2f2f2', '#55c055', 3, 156);

// percentage label above the pink band
(function(){ const x = xPix(pctLabel.idx) + 2; const y = yPix(0, pctLabel.price); rect(x - 37, y - 11, 74, 22, '#ffffff', '#d49090', 120); txt(x, y, pctLabel.text, '#c86060', '15px ' + FONT, 'center', 121); })();

// indicator legend tags
rect(0, 632, 77, 21, '#a9a9a9', '#555', 160); rect(3, 636, 12, 13, '#000', '#000', 161); txt(18, 643, 'RSI (14)', '#111', '15px ' + FONT, 'left', 162);
rect(0, 658.5, 82, 21, '#a9a9a9', '#555', 160); rect(3, 662, 12, 13, '#000', '#000', 161); txt(18, 669, 'ATR (14)', '#111', '15px ' + FONT, 'left', 162);
rect(0, 748.5, 127, 21, '#a9a9a9', '#555', 160);
rect(2, 752, 4, 13, '#4cc44c', '#4cc44c', 161); rect(6, 752, 4, 13, '#d06060', '#d06060', 161); rect(10, 752, 5, 13, '#3a3ad6', '#3a3ad6', 161);
txt(18, 759, 'MACD (12 26 9)', '#111', '15px ' + FONT, 'left', 162);

// credit line
G.push({type:'text', x:2, y:625, z:170, silent:true, style:{text:'{a|© ProRealTime.com} {b|Dati di fine giornata}', verticalAlign:'middle', textVerticalAlign:'middle',
  rich:{a:{font:'11px ' + FONT, fill:'#222', color:'#222'}, b:{font:'italic 11px ' + FONT, fill:'#222', color:'#222'}}}});

chart.setOption({graphic:G});
</script>
</body></html>
